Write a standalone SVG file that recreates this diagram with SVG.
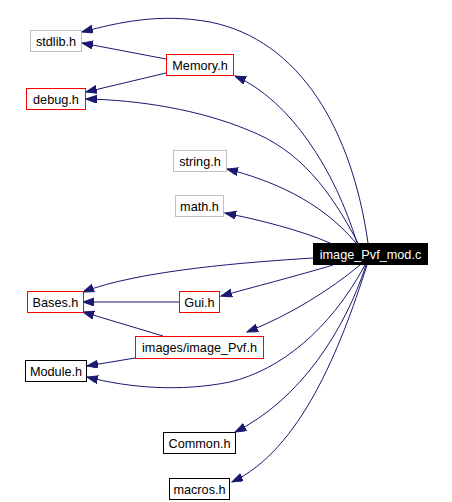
<svg xmlns="http://www.w3.org/2000/svg" width="452" height="502" viewBox="0 0 452 502">
<style>
.n rect{fill:#fff;stroke-width:1}
.g rect{stroke:#c0c0c0}
.r rect{stroke:#ff0000}
.k rect{stroke:#000}
.n text{font-family:"Liberation Sans",Arial,sans-serif;font-size:12.7px;text-anchor:middle;fill:#000}
.e path{fill:none;stroke:#191970;stroke-width:1;marker-end:url(#ah)}
</style>
<defs>
<marker id="ah" markerUnits="userSpaceOnUse" markerWidth="12" markerHeight="9" refX="11" refY="4" orient="auto">
<path d="M0,0 L11,4 L0,8 z" fill="#191970" stroke="#191970" stroke-width="1"/>
</marker>
</defs>
<rect width="452" height="502" fill="#fff"/>
<g id="edges" class="e">
<path d="M368,243 C352,130 300,40 210,22 C160,13 120,22 82,32"/>
<path d="M166,59 L82,43"/>
<path d="M166,73 L86,92"/>
<path d="M358,243 C330,190 300,150 248,130 C200,110 140,100 86,99"/>
<path d="M357,243 C335,170 290,100 235,76"/>
<path d="M356,243 C320,200 270,180 227,169"/>
<path d="M330,243 C300,230 260,220 225,213"/>
<path d="M313,258 C250,262 140,270 83,292"/>
<path d="M179,302 L83,302"/>
<path d="M333,265 C300,275 250,288 221,296"/>
<path d="M163,336 L83,312"/>
<path d="M360,265 C330,290 290,315 247,332"/>
<path d="M135,358 L87,366"/>
<path d="M365,265 C330,330 280,370 230,382 C180,392 130,388 87,377"/>
<path d="M366,265 C345,330 300,400 235,432"/>
<path d="M367,265 C340,350 300,450 232,482"/>
</g>
<g id="stdlib" class="n g"><rect x="30.5" y="30.5" width="51" height="21"/><text x="56" y="46">stdlib.h</text></g>
<g id="memory" class="n r"><rect x="166.5" y="54.5" width="67" height="21"/><text x="200" y="70">Memory.h</text></g>
<g id="debug" class="n r"><rect x="26.5" y="88.5" width="59" height="21"/><text x="56" y="104">debug.h</text></g>
<g id="string" class="n g"><rect x="173.5" y="150.5" width="53" height="21"/><text x="200" y="166">string.h</text></g>
<g id="math" class="n g"><rect x="175.5" y="195.5" width="48" height="21"/><text x="199.5" y="211">math.h</text></g>
<g id="main" class="n"><rect x="313.5" y="243.5" width="114" height="21" style="fill:#000;stroke:#000"/><text x="370.5" y="259" style="fill:#fff">image_Pvf_mod.c</text></g>
<g id="bases" class="n r"><rect x="27.5" y="291.5" width="56" height="21"/><text x="55.5" y="307">Bases.h</text></g>
<g id="gui" class="n r"><rect x="179.5" y="291.5" width="40" height="21"/><text x="199.5" y="307">Gui.h</text></g>
<g id="imagepvf" class="n r"><rect x="135.5" y="336.5" width="128" height="22"/><text x="199.5" y="352">images/image_Pvf.h</text></g>
<g id="module" class="n k"><rect x="25.5" y="360.5" width="61" height="21"/><text x="56" y="376">Module.h</text></g>
<g id="common" class="n k"><rect x="163.5" y="432.5" width="72" height="21"/><text x="199.5" y="448">Common.h</text></g>
<g id="macros" class="n k"><rect x="169.5" y="478.5" width="60" height="21"/><text x="199.5" y="494">macros.h</text></g>
</svg>
